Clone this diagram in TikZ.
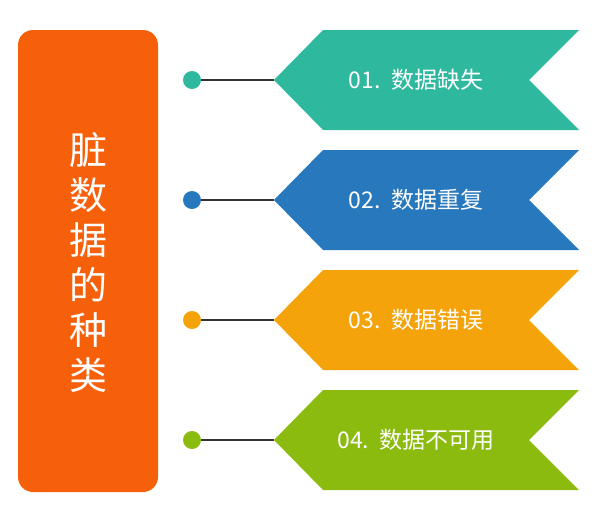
\documentclass[tikz,border=0pt]{standalone}
\usepackage{fontspec}
\newfontfamily\cjk{Noto Sans CJK SC}
\definecolor{cA}{HTML}{2EB89E}
\definecolor{cB}{HTML}{2878BD}
\definecolor{cC}{HTML}{F5A30B}
\definecolor{cD}{HTML}{8CBB10}
\definecolor{cO}{HTML}{F6600A}
\begin{document}
\begin{tikzpicture}[x=1pt,y=-1pt,
  lbl/.style={text=white,font=\cjk\fontsize{23}{26}\selectfont},
  dotn/.style={circle,inner sep=0pt,minimum size=18pt},
  link/.style={draw=black!80,line width=1.2pt}]
\useasboundingbox (0,0) rectangle (600,512);
\fill[cO,rounded corners=15pt] (18,30) rectangle (158,492);
\node[text=white,font=\cjk\fontsize{38}{45}\selectfont,align=center] (title) at (88,262) {脏\\数\\据\\的\\种\\类};
\foreach \y/\c/\t [count=\i] in {80/cA/01.\ \ 数据缺失,200/cB/02.\ \ 数据重复,320/cC/03.\ \ 数据错误,440/cD/04.\ \ 数据不可用}{
  \fill[\c] (274,\y) -- (323,\y-50) -- (579,\y-50) -- (529,\y) -- (579,\y+50) -- (323,\y+50) -- cycle;
  \coordinate (tip\i) at (274,\y);
  \node[dotn,fill=\c] (dot\i) at (192,\y) {};
  \draw[link] (dot\i) -- (tip\i);
  \node[lbl] (lbl\i) at (416,\y) {\t};
}
\end{tikzpicture}
\end{document}
